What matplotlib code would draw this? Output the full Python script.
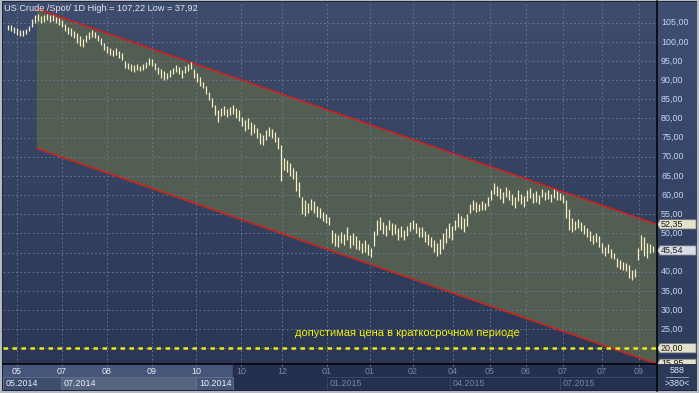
import numpy as np
import matplotlib
matplotlib.use("Agg")
import matplotlib.pyplot as plt
from matplotlib.colors import LinearSegmentedColormap
from matplotlib.patches import Rectangle, Polygon
from matplotlib.lines import Line2D

plt.rcParams['font.family'] = ['Liberation Sans', 'DejaVu Sans']

W, H = 699, 393

# daily bars, 05.2014 - 09.2015
highs = [
    104.5, 104.3, 104.0, 103.6, 103.2, 103.0, 103.4, 104.2, 106.0,
    107.0,
    107.2, 106.8, 107.0, 107.22, 106.9, 107.1, 106.6, 106.2,
    105.8,
    104.6, 104.0, 103.5, 102.8, 102.2, 101.5, 100.8,
    101.8, 102.5, 103.0, 102.6, 101.9,
    101.0, 99.8, 98.9,
    98.3, 97.9, 98.4, 97.6, 97.0,
    95.0, 94.6, 94.2, 93.9, 94.3, 93.8, 94.1, 94.8,
    95.8, 95.4,
    94.4, 93.5, 92.8, 92.3, 91.9, 92.6,
    93.3, 94.0, 93.5, 92.7, 93.8, 94.2, 94.7,
    93.0, 91.9, 90.8, 89.6,
    88.5, 87.0, 85.4, 83.6, 82.2,
    82.8, 83.2, 82.5, 82.9, 83.4, 82.7, 82.1,
    80.4, 79.6, 80.1, 79.2, 78.6,
    77.5, 76.3, 75.8, 76.9, 77.7, 77.2, 76.5,
    75.2, 73.2,
    69.8, 69.2, 68.4, 67.0,
    66.2, 63.5,
    59.4, 58.6, 57.8, 59.0, 58.4, 57.2, 56.6,
    55.5, 55.1, 54.4,
    50.8, 50.2, 49.6, 50.4, 49.8,
    51.7, 49.6, 50.0, 49.2, 48.4, 47.6, 48.2, 47.2, 46.3,
    50.6, 53.4, 54.3, 53.0, 52.2, 53.6, 52.8,
    52.4, 51.5, 52.0, 51.0, 51.8, 52.9, 53.5, 52.6, 51.6,
    51.7, 50.5, 49.8, 49.0,
    48.3, 47.5, 48.6,
    50.0, 51.5, 52.6, 51.8,
    53.4, 55.3, 54.6, 53.9, 55.0,
    57.6, 58.6, 58.2, 57.7, 58.4, 58.0, 59.6,
    61.4, 63.1, 62.3,
    61.8, 60.9, 62.0, 61.2, 60.2, 59.6, 61.3, 60.4, 59.8,
    61.2, 61.8, 60.5, 61.0, 59.9,
    61.6, 60.8, 61.3, 60.4, 61.6, 61.0, 60.6, 59.9,
    58.6, 56.4,
    54.0, 53.2, 53.8, 52.9, 52.2,
    51.4, 50.6, 49.7, 50.0, 49.2,
    47.5, 46.4, 47.1, 45.8, 45.0,
    43.6, 43.1, 42.6, 42.2,
    41.7, 40.5, 40.6,
    46.2, 49.5,
    49.1, 47.6, 47.3, 46.8,
]
lows = [
    103.2, 102.8, 102.4, 101.9, 101.6, 101.4, 102.0, 102.8, 104.0,
    105.0,
    105.4, 105.0, 105.3, 105.6, 105.2, 105.5, 104.8, 104.4,
    103.9,
    102.9, 102.0, 101.6, 100.9, 99.8, 99.0, 98.7,
    100.0, 100.8, 101.2, 100.9, 100.2,
    99.2, 97.8, 97.0,
    96.5, 96.2, 96.6, 95.9, 95.3,
    93.2, 92.8, 92.3, 92.2, 92.6, 92.4, 92.7, 93.2,
    94.0, 93.6,
    92.6, 91.6, 90.6, 90.1, 90.3, 90.9,
    91.5, 92.1, 91.7, 90.5, 91.9, 92.4, 92.8,
    90.6, 89.6, 88.5, 87.9,
    86.4, 84.8, 83.1, 80.9, 79.0,
    80.6, 81.0, 80.3, 80.8, 81.1, 80.2, 79.4,
    78.0, 76.6, 77.3, 75.8, 76.2,
    74.8, 73.4, 73.2, 74.5, 75.4, 74.8, 73.9,
    72.0, 63.8,
    66.6, 65.9, 64.9, 64.2,
    61.0, 59.5,
    55.0, 54.6, 55.3, 56.1, 55.4, 54.3, 54.0,
    53.2, 52.6, 52.2,
    47.4, 46.8, 46.5, 47.6, 47.0,
    48.2, 46.2, 47.0, 45.8, 45.6, 45.0, 45.2, 44.4, 43.8,
    46.8, 49.6, 51.0, 49.9, 49.2, 50.8, 49.5,
    49.8, 48.4, 49.0, 48.3, 49.4, 50.6, 51.1, 50.2, 49.0,
    49.0, 47.8, 46.9, 46.5,
    45.2, 44.0, 44.6,
    46.0, 47.5, 48.7, 48.2,
    50.8, 51.6, 51.2, 50.4, 51.8,
    55.4, 56.0, 55.5, 55.8, 56.2, 56.0, 57.2,
    58.6, 60.2, 59.8,
    59.0, 58.0, 59.6, 58.6, 57.4, 56.6, 58.4, 57.6, 57.0,
    58.4, 59.2, 57.9, 58.2, 57.6,
    59.4, 58.6, 59.0, 58.2, 59.3, 58.8, 58.6, 57.8,
    54.0, 50.8,
    50.4, 51.0, 51.3, 50.6, 49.9,
    49.0, 48.1, 47.2, 47.8, 46.4,
    45.0, 44.1, 44.8, 43.6, 43.2,
    41.3, 40.7, 40.4, 40.2,
    38.4, 37.92, 38.5,
    43.0, 45.6,
    44.2, 43.6, 44.8, 45.2,
]
last_close = 45.54

channel_x = [9.67, 216.33]
channel_upper = [108.6, 52.35]
channel_lower = [72.2, 15.95]
support_level = 20.0
support_text = "допустимая цена в краткосрочном периоде"

month_pos = [3, 18, 33, 48, 62.7, 77.7, 91.3, 106.3, 120.7, 135, 148.3, 160.7, 172.7, 185, 198, 210.3]
month_labels = ["05", "07", "08", "09", "10", "10", "12", "01", "01", "02", "04", "05", "06", "07", "07", "09"]
period_starts = [-1.67, 17.67, 62.67, 106.3, 147.3, 184.0]
period_labels = ["05.2014", "07.2014", "10.2014", "01.2015", "04.2015", "07.2015"]
price_ticks = list(range(20, 110, 5))

title = "US Crude /Spot/ 1D High = 107,22 Low = 37,92"

xlim = (-1.67, 216.33)
ylim = (15.9, 110.4)
split = 75  # end of the highlighted part of the time scale


def fmt(v):
    return f"{v:.2f}".replace(".", ",")


def px_axes(x0, y0, x1, y1):
    return fig.add_axes([x0 / W, 1 - y1 / H, (x1 - x0) / W, (y1 - y0) / H])


fig = plt.figure(figsize=(W / 100, H / 100), dpi=100, facecolor="#b6bac2")

# dark frame
frame = px_axes(2, 1, 697, 391)
frame.axis("off")
frame.add_patch(Rectangle((0, 0), 1, 1, transform=frame.transAxes, color="#1e2638"))

grad = np.linspace(0, 1, 256).reshape(-1, 1)
cmap_main = LinearSegmentedColormap.from_list("m", ["#2b3755", "#3e4c6d"])

# main chart
ax = px_axes(3, 2, 657, 364)
ax.imshow(grad, extent=[xlim[0], xlim[1], ylim[0], ylim[1]], origin="lower",
          aspect="auto", cmap=cmap_main, zorder=0)
ax.set_xlim(xlim)
ax.set_ylim(ylim)
ax.set_xticks(month_pos)
ax.set_yticks(price_ticks)
ax.tick_params(length=0, labelbottom=False, labelleft=False)
ax.grid(True, color="#6d7d9b", ls=(0, (2, 3)), lw=0.6, zorder=0.5)
for s in ax.spines.values():
    s.set_visible(False)

ax.fill_between(channel_x, channel_lower, channel_upper, color="#535e52", zorder=1)
ax.plot(channel_x, channel_upper, color="#e01818", lw=1.0, zorder=2)
ax.plot(channel_x, channel_lower, color="#e01818", lw=1.0, zorder=2)

x = np.arange(len(highs))
ax.vlines(x, lows, highs, color="#f6efc2", lw=0.9, zorder=3)

ax.axhline(support_level, color="#ecec12", lw=1.8, dashes=(1.8, 1.8), zorder=4)
ax.text(95.7, 24.0, support_text, color="#f2f20a", fontsize=8, va="center", ha="left", zorder=5)

# right price scale
rp = px_axes(657, 2, 697, 364)
cmap_right = LinearSegmentedColormap.from_list("r", ["#2e3c5c", "#3f4f72"])
rp.imshow(grad, extent=[0, 40, ylim[0], ylim[1]], origin="lower", aspect="auto",
          cmap=cmap_right, zorder=0)
rp.set_xlim(0, 40)
rp.set_ylim(ylim)
rp.axis("off")
for v in price_ticks:
    if abs(v - last_close) < 1.0:
        continue  # covered by the last price marker
    rp.text(4, v, fmt(v), color="#c8d6f0", fontsize=6.4, va="center", ha="left", zorder=1)

for v, fc in [(channel_upper[-1], "#e6e2ca"), (last_close, "#d8dce6"),
              (support_level, "#e6e2ca"), (channel_lower[-1], "#e6e2ca")]:
    h = 1.2
    rp.add_patch(Polygon([(0.5, v), (3, v + h), (39, v + h), (39, v - h), (3, v - h)],
                         closed=True, fc=fc, ec="#7c8088", lw=0.5, zorder=2))
    rp.text(4, v, fmt(v), color="#1a1a1a", fontsize=6.4, va="center", ha="left",
            zorder=3, clip_on=True)

# time scale
bp = px_axes(3, 364, 657, 390)
bp.set_xlim(xlim)
bp.set_ylim(0, 26)
bp.axis("off")
bp.add_patch(Rectangle((xlim[0], 0), split - xlim[0], 26, color="#46567a"))
bp.add_patch(Rectangle((split, 0), xlim[1] - split, 26, color="#25304e"))
cell_colors = ["#3d4d6e", "#56657f", "#46567a"]
bounds = period_starts + [xlim[1]]
for k, lab in enumerate(period_labels):
    x0, x1 = bounds[k], bounds[k + 1]
    if k < 3:
        x1 = min(x1, split)
        bp.add_patch(Rectangle((x0, 0), x1 - x0, 13, fc=cell_colors[k], ec="#6a7894", lw=0.5))
        col = "#eaeef6"
    else:
        bp.add_patch(Rectangle((x0, 0), x1 - x0, 13, fc="#25304e", ec="#3c4a6a", lw=0.6))
        col = "#7886a6"
    bp.text(x0 + 1.0, 6.0, lab, color=col, fontsize=6.4, va="center", ha="left")
for p, lab in zip(month_pos, month_labels):
    col = "#eaeef6" if p < split else "#7886a6"
    bp.plot([p, p], [24, 26], color="#7080a0", lw=0.6)
    bp.text(p, 18.5, lab, color=col, fontsize=6.4, va="center", ha="center")

# corner box
cp = px_axes(657, 364, 697, 390)
cp.set_xlim(0, 40)
cp.set_ylim(0, 26)
cp.axis("off")
cp.add_patch(Rectangle((0, 0), 40, 26, color="#2c3a5a"))
cp.text(20, 19.5, "588", color="#dbe3f2", fontsize=6.4, ha="center", va="center")
cp.plot([9, 31], [13, 13], color="#9aa6c0", lw=0.6)
cp.text(20, 6.5, ">380<", color="#dbe3f2", fontsize=6.4, ha="center", va="center")

# separators
fig.add_artist(Line2D([657 / W, 657 / W], [1 - 391 / H, 1 - 1 / H], color="black", lw=1.1))
fig.add_artist(Line2D([3 / W, 657 / W], [1 - 364 / H, 1 - 364 / H], color="black", lw=1.1))

fig.text(4 / W, 1 - 8.5 / H, title, color="#e2e6ee", fontsize=6.6, va="center", ha="left")

fig.savefig("out.png", dpi=100, facecolor=fig.get_facecolor())
